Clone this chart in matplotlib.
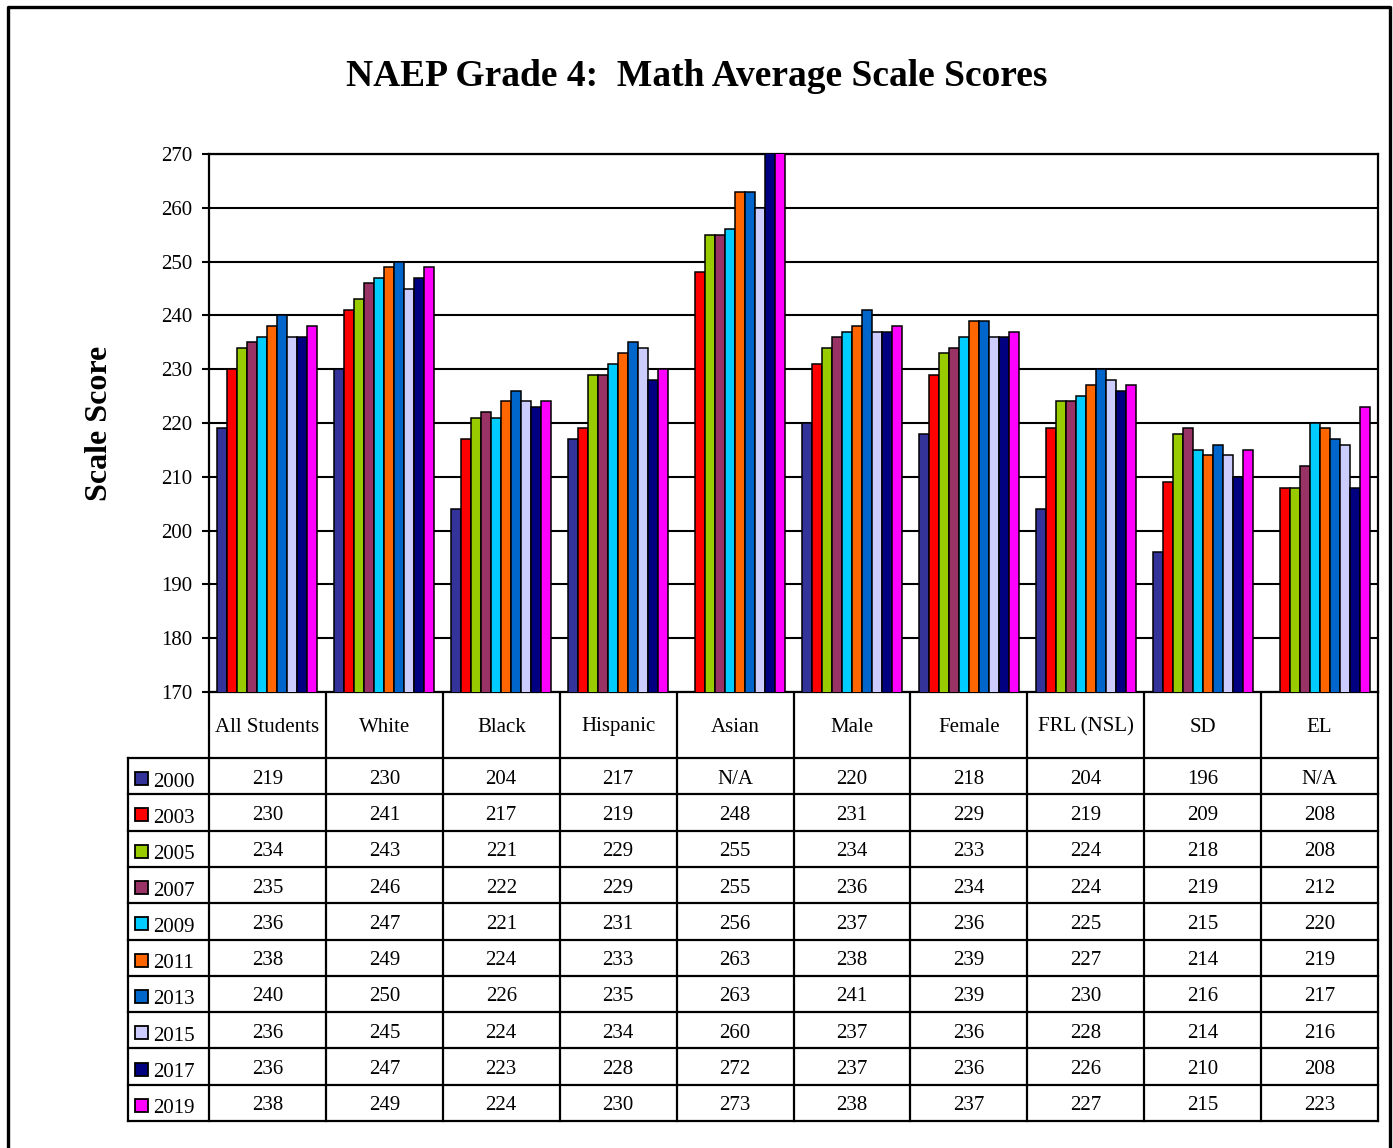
import numpy as np
import matplotlib
matplotlib.use("Agg")
import matplotlib.pyplot as plt
from matplotlib import transforms
from matplotlib.patches import Rectangle

plt.rcParams['font.family'] = ['Liberation Serif', 'DejaVu Serif']

categories = ["All Students", "White", "Black", "Hispanic", "Asian",
              "Male", "Female", "FRL (NSL)", "SD", "EL"]
years = ["2000", "2003", "2005", "2007", "2009", "2011", "2013", "2015", "2017", "2019"]
nan = np.nan
s2000 = [219, 230, 204, 217, nan, 220, 218, 204, 196, nan]
s2003 = [230, 241, 217, 219, 248, 231, 229, 219, 209, 208]
s2005 = [234, 243, 221, 229, 255, 234, 233, 224, 218, 208]
s2007 = [235, 246, 222, 229, 255, 236, 234, 224, 219, 212]
s2009 = [236, 247, 221, 231, 256, 237, 236, 225, 215, 220]
s2011 = [238, 249, 224, 233, 263, 238, 239, 227, 214, 219]
s2013 = [240, 250, 226, 235, 263, 241, 239, 230, 216, 217]
s2015 = [236, 245, 224, 234, 260, 237, 236, 228, 214, 216]
s2017 = [236, 247, 223, 228, 272, 237, 236, 226, 210, 208]
s2019 = [238, 249, 224, 230, 273, 238, 237, 227, 215, 223]
series = [s2000, s2003, s2005, s2007, s2009, s2011, s2013, s2015, s2017, s2019]
colors = ["#333399", "#FF0000", "#99CC00", "#993366", "#00CCFF",
          "#FF6600", "#0066CC", "#CCCCFF", "#000080", "#FF00FF"]
yticks = [170, 180, 190, 200, 210, 220, 230, 240, 250, 260, 270]

W, H = 1393, 1148
fig = plt.figure(figsize=(W / 100, H / 100), dpi=100)

# overlay axes in pixel coordinates (for table and border)
ov = fig.add_axes([0, 0, 1, 1], zorder=0)
ov.set_xlim(0, W)
ov.set_ylim(H, 0)
ov.axis('off')
ov.patch.set_alpha(0)

# main plot area: x 209..1378, y 154..692
ax_left, ax_right, ax_top, ax_bot = 209, 1378, 154, 692
ax = fig.add_axes([ax_left / W, 1 - ax_bot / H, (ax_right - ax_left) / W, (ax_bot - ax_top) / H], zorder=2)

n = len(categories)
nser = len(series)
x = np.arange(n)
bw = 0.0855
for i, (vals, c) in enumerate(zip(series, colors)):
    off = (i - (nser - 1) / 2) * bw
    ax.bar(x + off, vals, width=bw, color=c, edgecolor='black', linewidth=1.1, zorder=3)

ax.set_xlim(-0.5, n - 0.5)
ax.set_ylim(170, 270)
ax.set_yticks(yticks)
ax.set_xticks([])
ax.set_axisbelow(True)
ax.yaxis.grid(True, color='black', linewidth=1.5)
for sp in ax.spines.values():
    sp.set_linewidth(1.6)
    sp.set_color('black')
ax.tick_params(axis='y', direction='out', length=5, width=1.5, pad=7, labelsize=15)
ax.set_ylabel("Scale Score", fontsize=23, fontweight='bold', labelpad=0)
ax.yaxis.set_label_coords((114 - ax_left) / (ax_right - ax_left), 0.5)

fig.text(0.5, 1 - 76 / H, "NAEP Grade 4:  Math Average Scale Scores",
         ha='center', va='center', fontsize=27, fontweight='bold')

# data table under the chart: x from main axes data, y in pixels
tr = transforms.blended_transform_factory(ax.transData, ov.transData)
head_top, row_top, row_bot = 692, 758, 1121
rh = (row_bot - row_top) / nser
lab_left = 128
lw_t = 1.6

# vertical column lines
for k in range(n + 1):
    ov.plot([k - 0.5, k - 0.5], [head_top, row_bot], color='black', lw=lw_t,
            transform=tr, clip_on=False, solid_capstyle='projecting')
# left border of label column
ov.plot([lab_left, lab_left], [row_top, row_bot], color='black', lw=lw_t,
        clip_on=False, solid_capstyle='projecting')
# horizontal row lines
x_right_px = ax.transData.transform((n - 0.5, 0))[0]
for r in range(nser + 1):
    yy = row_top + r * rh
    ov.plot([lab_left, x_right_px], [yy, yy], color='black', lw=lw_t,
            clip_on=False, solid_capstyle='projecting')

# header labels
for k, cat in enumerate(categories):
    ov.text(k, (head_top + row_top) / 2 + 2, cat, transform=tr, ha='center', va='center', fontsize=15)

# rows
for r, (yr, vals, c) in enumerate(zip(years, series, colors)):
    yc = row_top + (r + 0.5) * rh
    ov.add_patch(Rectangle((135, yc - 4), 13, 13, facecolor=c, edgecolor='black', lw=1.3))
    ov.text(153, yc + 6, yr, ha='left', va='center', fontsize=15)
    for k, v in enumerate(vals):
        txt = "N/A" if np.isnan(v) else f"{int(v)}"
        ov.text(k, yc + 3, txt, transform=tr, ha='center', va='center', fontsize=15)

# outer border
ov.plot([8, 8, 1390, 1390], [H + 10, 7, 7, H + 10], color='black', lw=2.4, clip_on=False)

fig.savefig("out.png", dpi=100)
